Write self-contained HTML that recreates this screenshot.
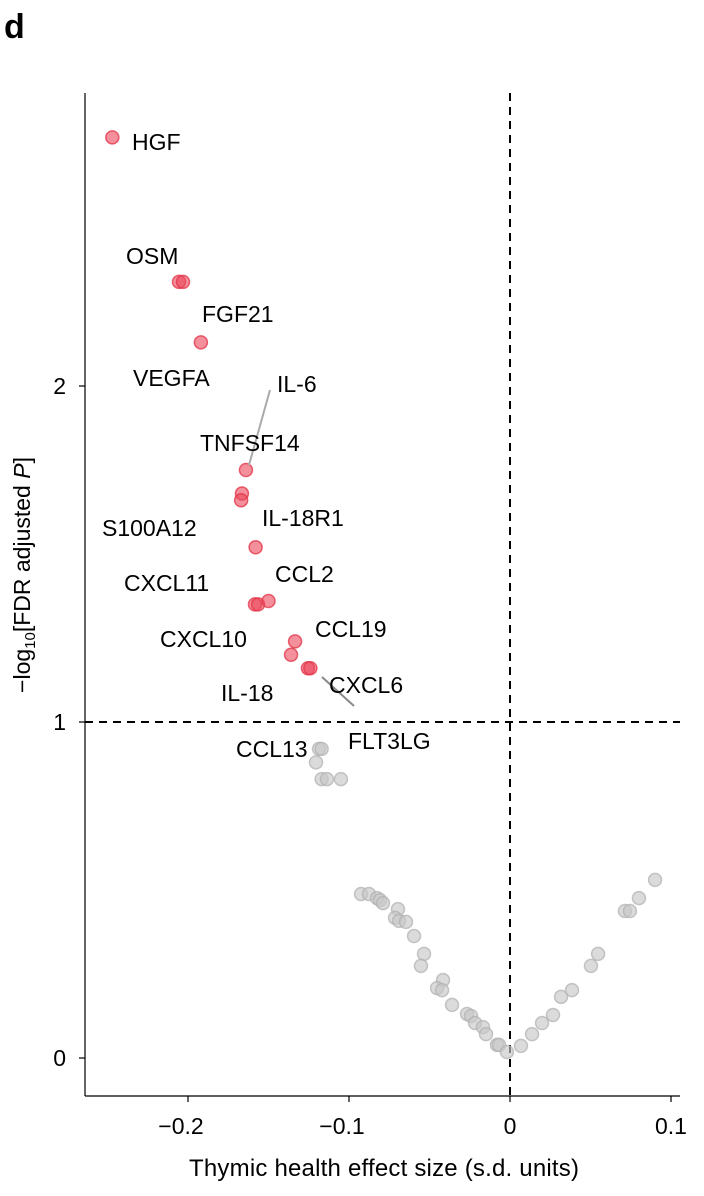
<!DOCTYPE html>
<html><head><meta charset="utf-8"><style>
html,body{margin:0;padding:0;background:#fff;}
svg{display:block;font-family:"Liberation Sans",Arial,sans-serif;}
</style></head><body>
<svg id="chart" width="704" height="1196">
<text x="4" y="38" font-size="34" font-weight="bold">d</text>
<g id="axes"></g><g id="marks"></g><g id="labels"></g>
</svg>
<script>
const sigX=[-0.247,-0.2056,-0.2031,-0.192,-0.164,-0.1665,-0.167,-0.158,-0.1584,-0.1565,-0.150,-0.1335,-0.136,-0.1255,-0.124];
const sigY=[2.74,2.31,2.31,2.13,1.75,1.68,1.66,1.52,1.35,1.35,1.36,1.24,1.20,1.16,1.16];
const nsX=[-0.1186,-0.117,-0.1205,-0.117,-0.1137,-0.105,-0.0925,-0.0876,-0.0826,-0.0807,-0.0789,-0.0696,-0.0714,-0.0689,-0.0646,-0.0596,-0.0534,-0.0553,-0.0416,-0.0453,-0.0422,-0.036,-0.0267,-0.0242,-0.0217,-0.0168,-0.0149,-0.0081,-0.0068,-0.0019,0.0068,0.0137,0.0199,0.0267,0.0317,0.0385,0.0503,0.0547,0.0714,0.0745,0.0801,0.0901];
const nsY=[0.92,0.92,0.88,0.83,0.83,0.83,0.488,0.488,0.476,0.470,0.461,0.443,0.417,0.408,0.405,0.363,0.310,0.274,0.232,0.208,0.202,0.158,0.131,0.125,0.104,0.092,0.071,0.039,0.039,0.018,0.036,0.071,0.104,0.128,0.182,0.202,0.274,0.310,0.4375,0.4375,0.476,0.530];
const xTicks=[-0.2,-0.1,0,0.1];
const xTickLabels=["\u22120.2","\u22120.1","0","0.1"];
const yTicks=[0,1,2];
const geneNames=["HGF","OSM","FGF21","VEGFA","IL-6","TNFSF14","IL-18R1","S100A12","CCL2","CXCL11","CCL19","CXCL10","CXCL6","IL-18","FLT3LG","CCL13"];

const NS="http://www.w3.org/2000/svg";
const X=v=>510+v*1610;
const Y=v=>1058-v*336;
function mk(tag,attrs,parent){const e=document.createElementNS(NS,tag);for(const k in attrs)e.setAttribute(k,attrs[k]);parent.appendChild(e);return e;}
const axes=document.getElementById('axes'),marks=document.getElementById('marks'),labels=document.getElementById('labels');

let e=mk('line',{x1:85,y1:93,x2:85,y2:1096,stroke:'#000','stroke-width':1.2},axes);


e=mk('line',{x1:85,y1:1096,x2:680,y2:1096,stroke:'#000','stroke-width':1.2},axes);


xTicks.forEach((t,i)=>{
  let l=mk('line',{x1:X(t),y1:1096,x2:X(t),y2:1102,stroke:'#000','stroke-width':1.2},axes);
  
  
  let tx=mk('text',{x:X(t)-(t<0?7:0),y:1134,'font-size':23,'text-anchor':'middle'},axes);tx.textContent=xTickLabels[i];
  
  
});
yTicks.forEach(t=>{
  let l=mk('line',{x1:79,y1:Y(t),x2:85,y2:Y(t),stroke:'#000','stroke-width':1.2},axes);
  
  
  let tx=mk('text',{x:66,y:Y(t)+8,'font-size':23,'text-anchor':'end'},axes);tx.textContent=t;
  
  
});
e=mk('line',{x1:85,y1:Y(1),x2:680,y2:Y(1),stroke:'#000','stroke-width':2,'stroke-dasharray':'8,6'},axes);


e=mk('line',{x1:X(0),y1:93,x2:X(0),y2:1096,stroke:'#000','stroke-width':2,'stroke-dasharray':'8,6'},axes);


e=mk('text',{x:384,y:1176,'font-size':24,'text-anchor':'middle','textLength':390},axes);e.textContent='Thymic health effect size (s.d. units)';


e=mk('text',{transform:'translate(30,575) rotate(-90)','font-size':23,'text-anchor':'middle'},axes);
e.innerHTML='\u2212log<tspan font-size="15" dy="5">10</tspan><tspan dy="-5">[FDR adjusted </tspan><tspan font-style="italic">P</tspan>]';



nsX.forEach((v,i)=>{
  let c=mk('circle',{cx:X(v),cy:Y(nsY[i]),r:6.5,fill:'rgba(200,200,200,0.65)',stroke:'rgba(175,175,175,0.7)','stroke-width':1.5},marks);
  
  
});
sigX.forEach((v,i)=>{
  let c=mk('circle',{cx:X(v),cy:Y(sigY[i]),r:6.5,fill:'rgba(235,70,90,0.6)',stroke:'rgba(225,50,70,0.75)','stroke-width':1.5},marks);
  
  
});

e=mk('line',{x1:270,y1:390,x2:249,y2:465,stroke:'#aaa','stroke-width':2},labels);


e=mk('line',{x1:322,y1:677,x2:354,y2:706,stroke:'#888','stroke-width':2},labels);


const labelPos=[[132,150],[126,264],[202,322],[133,386],[277,392],[200,451],[262,526],[102,536],[275,582],[124,591],[315,637],[160,647],[329,693],[221,701],[348,749],[236,757]];
geneNames.forEach((g,i)=>{
  let t=mk('text',{x:labelPos[i][0],y:labelPos[i][1],'font-size':23},labels);t.textContent=g;
  
  
});
</script>
</body></html>
